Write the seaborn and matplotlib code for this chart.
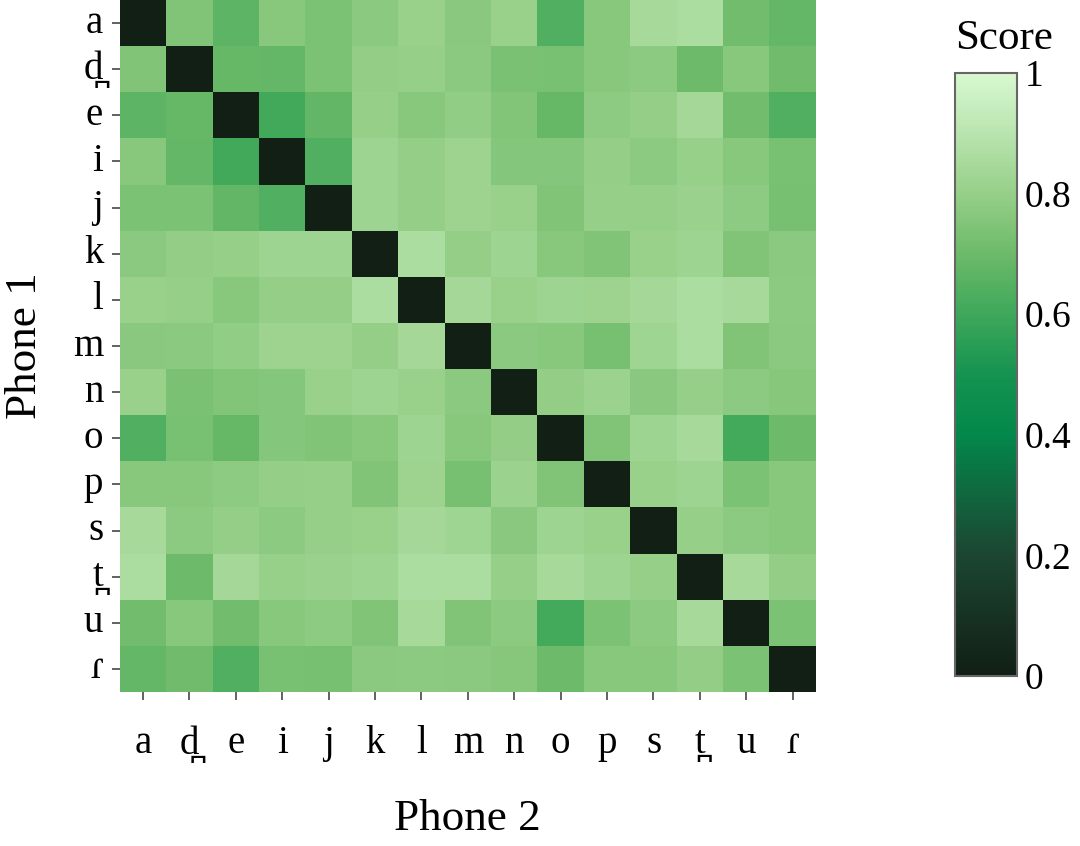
import matplotlib
matplotlib.use("Agg")
import matplotlib.pyplot as plt
import seaborn as sns
import numpy as np
import pandas as pd
from matplotlib.colors import LinearSegmentedColormap

# Phone labels (IPA)
phones = ["a", "d\u032a", "e", "i", "j", "k", "l", "m", "n", "o", "p", "s", "t\u032a", "u", "\u027e"]

# similarity scores, row = Phone 1, column = Phone 2
row_a = [0, .748, .667, .762, .738, .770, .806, .767, .806, .639, .762, .844, .862, .714, .681]
row_d = [.748, 0, .684, .680, .738, .790, .800, .770, .733, .729, .762, .774, .702, .762, .708]
row_e = [.667, .684, 0, .607, .678, .797, .762, .787, .752, .687, .779, .795, .841, .714, .639]
row_i = [.762, .680, .607, 0, .639, .821, .793, .818, .755, .755, .793, .774, .803, .765, .729]
row_j = [.738, .738, .678, .639, 0, .821, .795, .820, .806, .748, .800, .797, .809, .779, .725]
row_k = [.770, .790, .797, .821, .821, 0, .862, .795, .824, .765, .748, .806, .821, .748, .770]
row_l = [.806, .800, .762, .793, .795, .862, 0, .841, .806, .821, .818, .841, .862, .847, .776]
row_m = [.767, .770, .787, .818, .820, .795, .841, 0, .772, .762, .726, .826, .862, .748, .772]
row_n = [.806, .733, .752, .755, .806, .824, .806, .772, 0, .792, .815, .767, .800, .774, .760]
row_o = [.639, .729, .687, .755, .748, .765, .821, .762, .792, 0, .748, .821, .844, .611, .702]
row_p = [.762, .762, .779, .793, .800, .748, .818, .726, .815, .748, 0, .806, .821, .738, .762]
row_s = [.844, .774, .795, .774, .797, .806, .841, .826, .767, .821, .806, 0, .800, .774, .765]
row_t = [.862, .702, .841, .803, .809, .821, .862, .862, .800, .844, .821, .800, 0, .844, .792]
row_u = [.714, .762, .714, .765, .779, .748, .847, .748, .774, .611, .738, .774, .844, 0, .738]
row_r = [.681, .708, .639, .729, .725, .770, .776, .772, .760, .702, .762, .765, .792, .738, 0]

scores = pd.DataFrame(
    [row_a, row_d, row_e, row_i, row_j, row_k, row_l, row_m,
     row_n, row_o, row_p, row_s, row_t, row_u, row_r],
    index=phones, columns=phones)

cbar_ticks = [0, 0.2, 0.4, 0.6, 0.8, 1]
cbar_labels = ["0", "0.2", "0.4", "0.6", "0.8", "1"]

plt.rcParams["font.family"] = ["Liberation Serif", "DejaVu Serif"]

greens = LinearSegmentedColormap.from_list("score_greens", [
    (0.0, "#111f15"),
    (0.2, "#1c4632"),
    (0.4, "#03884a"),
    (0.5, "#159350"),
    (0.6, "#3ea85a"),
    (0.7, "#6cba69"),
    (0.8, "#96cf88"),
    (0.9, "#b8e4ae"),
    (1.0, "#d8f8d0"),
])

fig = plt.figure(figsize=(10.8, 8.46), dpi=100)
ax = fig.add_axes([0.111, 0.182, 0.6444, 0.818])
cax = fig.add_axes([0.884, 0.201, 0.0574, 0.713])

sns.heatmap(scores, ax=ax, cbar_ax=cax, cmap=greens, vmin=0, vmax=1,
            square=False)

ax.set_xlabel("Phone 2", fontsize=32.5, labelpad=26)
ax.set_ylabel("Phone 1", fontsize=32.5, labelpad=20)
ax.tick_params(axis="x", length=6, width=1.3, color="#555555", pad=18,
               labelsize=28, rotation=0)
ax.tick_params(axis="y", length=6, width=1.3, color="#555555", pad=6,
               labelsize=28, rotation=0)

cbar = ax.collections[0].colorbar
cbar.set_ticks(cbar_ticks)
cbar.set_ticklabels(cbar_labels)
cbar.ax.tick_params(length=0, labelsize=27, pad=6)
cbar.outline.set_edgecolor("#666666")
cbar.outline.set_linewidth(1.5)
cax.set_title("Score", fontsize=31, pad=17, x=0.8)

fig.savefig("out.png", dpi=100)
